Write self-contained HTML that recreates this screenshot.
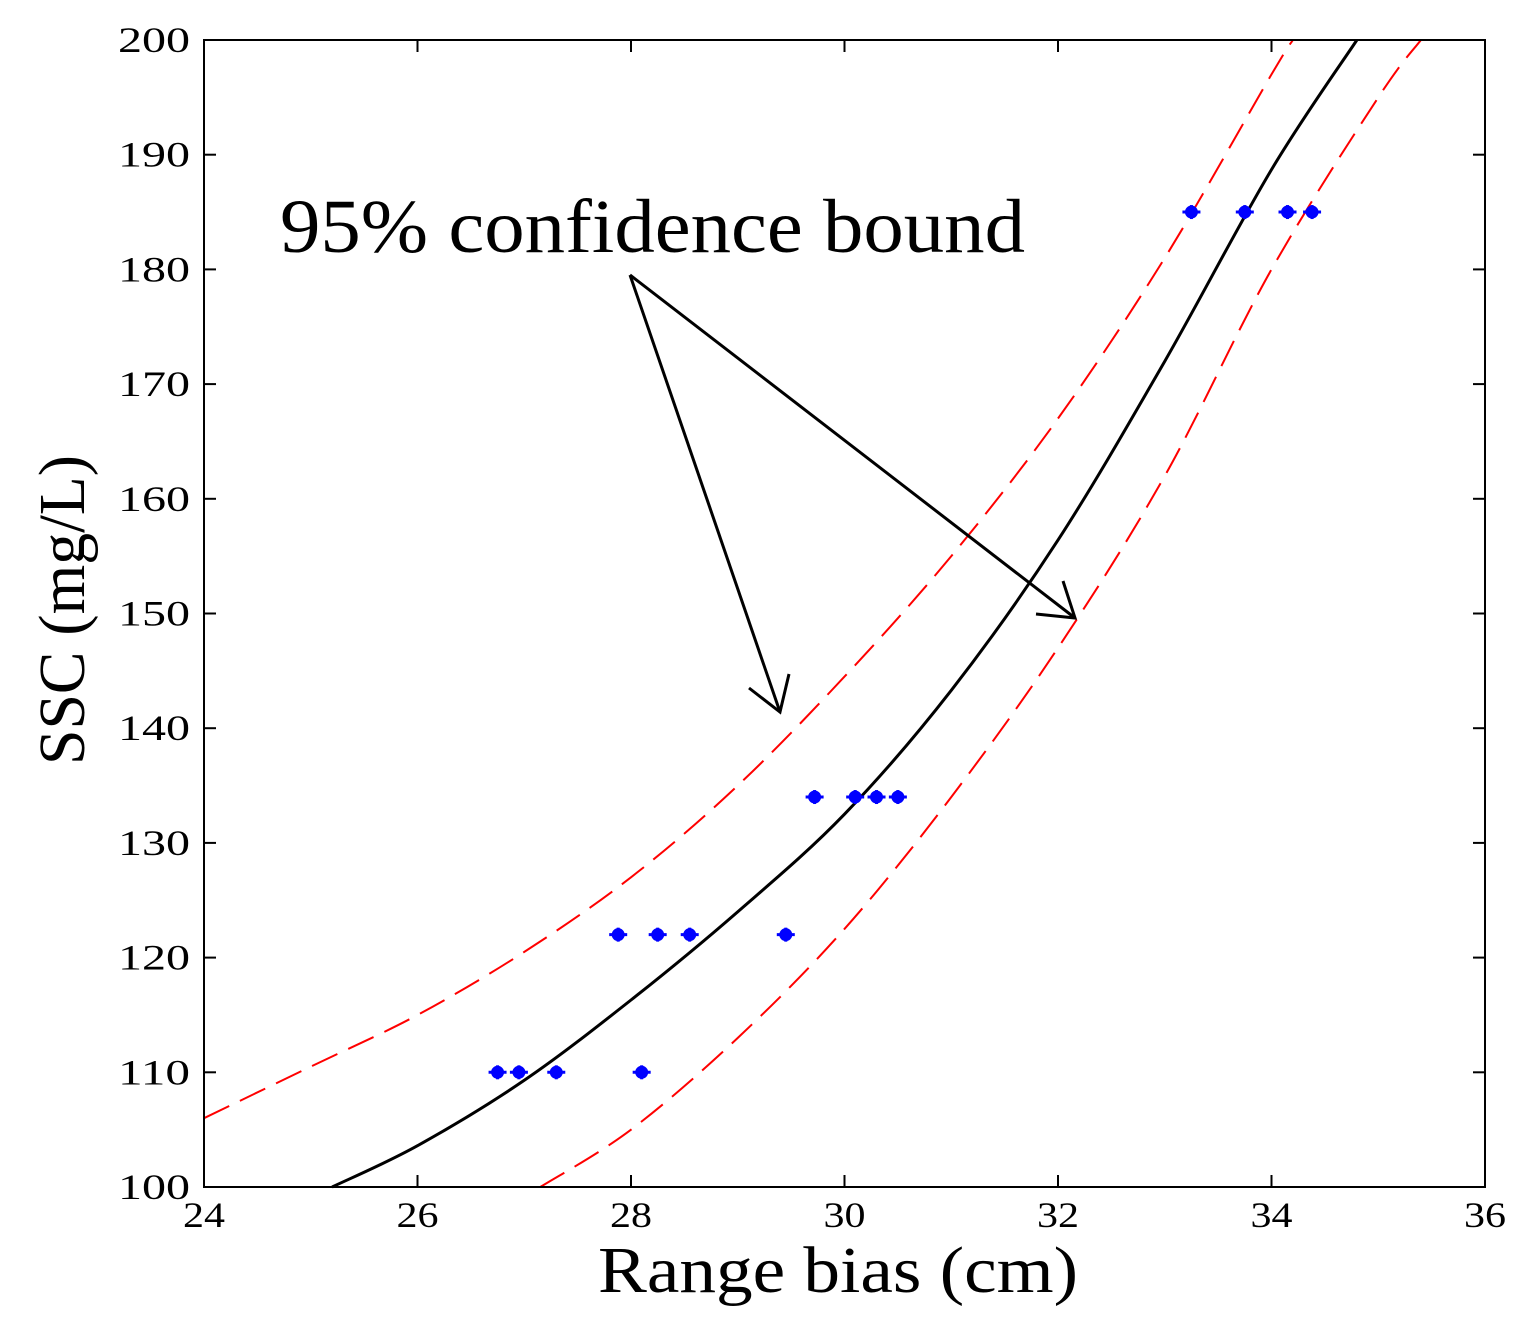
<!DOCTYPE html>
<html><head><meta charset="utf-8"><style>
html,body{margin:0;padding:0;background:#fff;}
svg{display:block;font-family:"Liberation Serif",serif;}
</style></head><body>
<svg id="chart" width="1524" height="1326" viewBox="0 0 1524 1326">
<g id="series"></g>
<g id="axes"></g>
<text x="280" y="252" font-size="76" textLength="745" lengthAdjust="spacingAndGlyphs">95% confidence bound</text>
<g fill="none" stroke="#000" stroke-width="3">
<line x1="630" y1="275" x2="780" y2="712"/>
<polyline points="749,688 780,712 789,674"/>
<line x1="630" y1="275" x2="1075" y2="618"/>
<polyline points="1036,614 1075,618 1063,581"/>
</g>
<text x="838" y="1292" font-size="66" text-anchor="middle" textLength="480" lengthAdjust="spacingAndGlyphs">Range bias (cm)</text>
<text transform="translate(84,610) rotate(-90)" font-size="66" text-anchor="middle" textLength="310" lengthAdjust="spacingAndGlyphs">SSC (mg/L)</text>
</svg>
<script>
const xTicks=[24,26,28,30,32,34,36];
const yTicks=[100,110,120,130,140,150,160,170,180,190,200];
const fitX=[25.2,26,27,28,29,30,31,32,33,34,34.8];
const fitY=[100,103.6,109.3,116.3,124,132.5,143.3,156.4,172,188.7,200];
const upperX=[24,25,26,27,28,29,30,31,32,33,34,34.2];
const upperY=[106,110.5,115,120.5,127,135,144.5,155,167,181,197,200];
const lowerX=[27.15,28,29,30,31,32,33,34,35,35.4];
const lowerY=[100,105,113,122.5,134,147,162,180,195,200];
const ptX=[26.75,26.95,27.3,28.1,27.88,28.25,28.55,29.45,29.72,30.1,30.3,30.5,33.25,33.75,34.15,34.38];
const ptY=[110,110,110,110,122,122,122,122,134,134,134,134,185,185,185,185];
const L=204,R=1485,T=40,B=1187;
const sx=v=>L+(v-24)/12*(R-L);
const sy=v=>B-(v-100)/100*(B-T);
const NS="http://www.w3.org/2000/svg";
const mk=(t,a,p)=>{const e=document.createElementNS(NS,t);for(const k in a)e.setAttribute(k,a[k]);p.appendChild(e);return e;};
const axes=document.getElementById('axes'),ser=document.getElementById('series');
const frame=mk('rect',{x:L,y:T,width:R-L,height:B-T,fill:'none',stroke:'#000','stroke-width':2},axes);


xTicks.forEach(v=>{const x=sx(v);
 mk('line',{x1:x,y1:B,x2:x,y2:B-12,stroke:'#000','stroke-width':2},axes);
 mk('line',{x1:x,y1:T,x2:x,y2:T+12,stroke:'#000','stroke-width':2},axes);
 const s=String(v);
 const t=mk('text',{x:x,y:B+40,'font-size':36,'text-anchor':'middle',textLength:s.length*21,lengthAdjust:'spacingAndGlyphs'},axes);t.textContent=s;
 
 
});
yTicks.forEach(v=>{const y=sy(v);
 mk('line',{x1:L,y1:y,x2:L+12,y2:y,stroke:'#000','stroke-width':2},axes);
 mk('line',{x1:R,y1:y,x2:R-12,y2:y,stroke:'#000','stroke-width':2},axes);
 const s=String(v);
 const t=mk('text',{x:L-14,y:y+12,'font-size':36,'text-anchor':'end',textLength:s.length*24,lengthAdjust:'spacingAndGlyphs'},axes);t.textContent=s;
 
 
});
function path(xs,ys){
 const p=xs.map((x,i)=>[sx(x),sy(ys[i])]);
 let d='M'+p[0][0].toFixed(1)+','+p[0][1].toFixed(1);
 for(let i=0;i<p.length-1;i++){
  const p0=p[i-1]||p[i],p1=p[i],p2=p[i+1],p3=p[i+2]||p2;
  const c1=[p1[0]+(p2[0]-p0[0])/6,p1[1]+(p2[1]-p0[1])/6];
  const c2=[p2[0]-(p3[0]-p1[0])/6,p2[1]-(p3[1]-p1[1])/6];
  d+='C'+c1.map(n=>n.toFixed(1))+' '+c2.map(n=>n.toFixed(1))+' '+p2.map(n=>n.toFixed(1));
 }
 return d;
}
const fit=mk('path',{d:path(fitX,fitY),fill:'none',stroke:'#000','stroke-width':3},ser);


const up=mk('path',{d:path(upperX,upperY),fill:'none',stroke:'#f00','stroke-width':2,'stroke-dasharray':'28,12'},ser);


const lo=mk('path',{d:path(lowerX,lowerY),fill:'none',stroke:'#f00','stroke-width':2,'stroke-dasharray':'28,12'},ser);


ptX.forEach((x,i)=>{
 const cx=sx(x),cy=sy(ptY[i]);
 const g=mk('g',{fill:'#00f',stroke:'#00f','stroke-width':3},ser);
 
 
 mk('circle',{cx:cx,cy:cy,r:5},g);
 mk('line',{x1:cx-9,y1:cy,x2:cx+9,y2:cy},g);
 mk('line',{x1:cx,y1:cy-7,x2:cx,y2:cy+7},g);
});
</script>
</body></html>
